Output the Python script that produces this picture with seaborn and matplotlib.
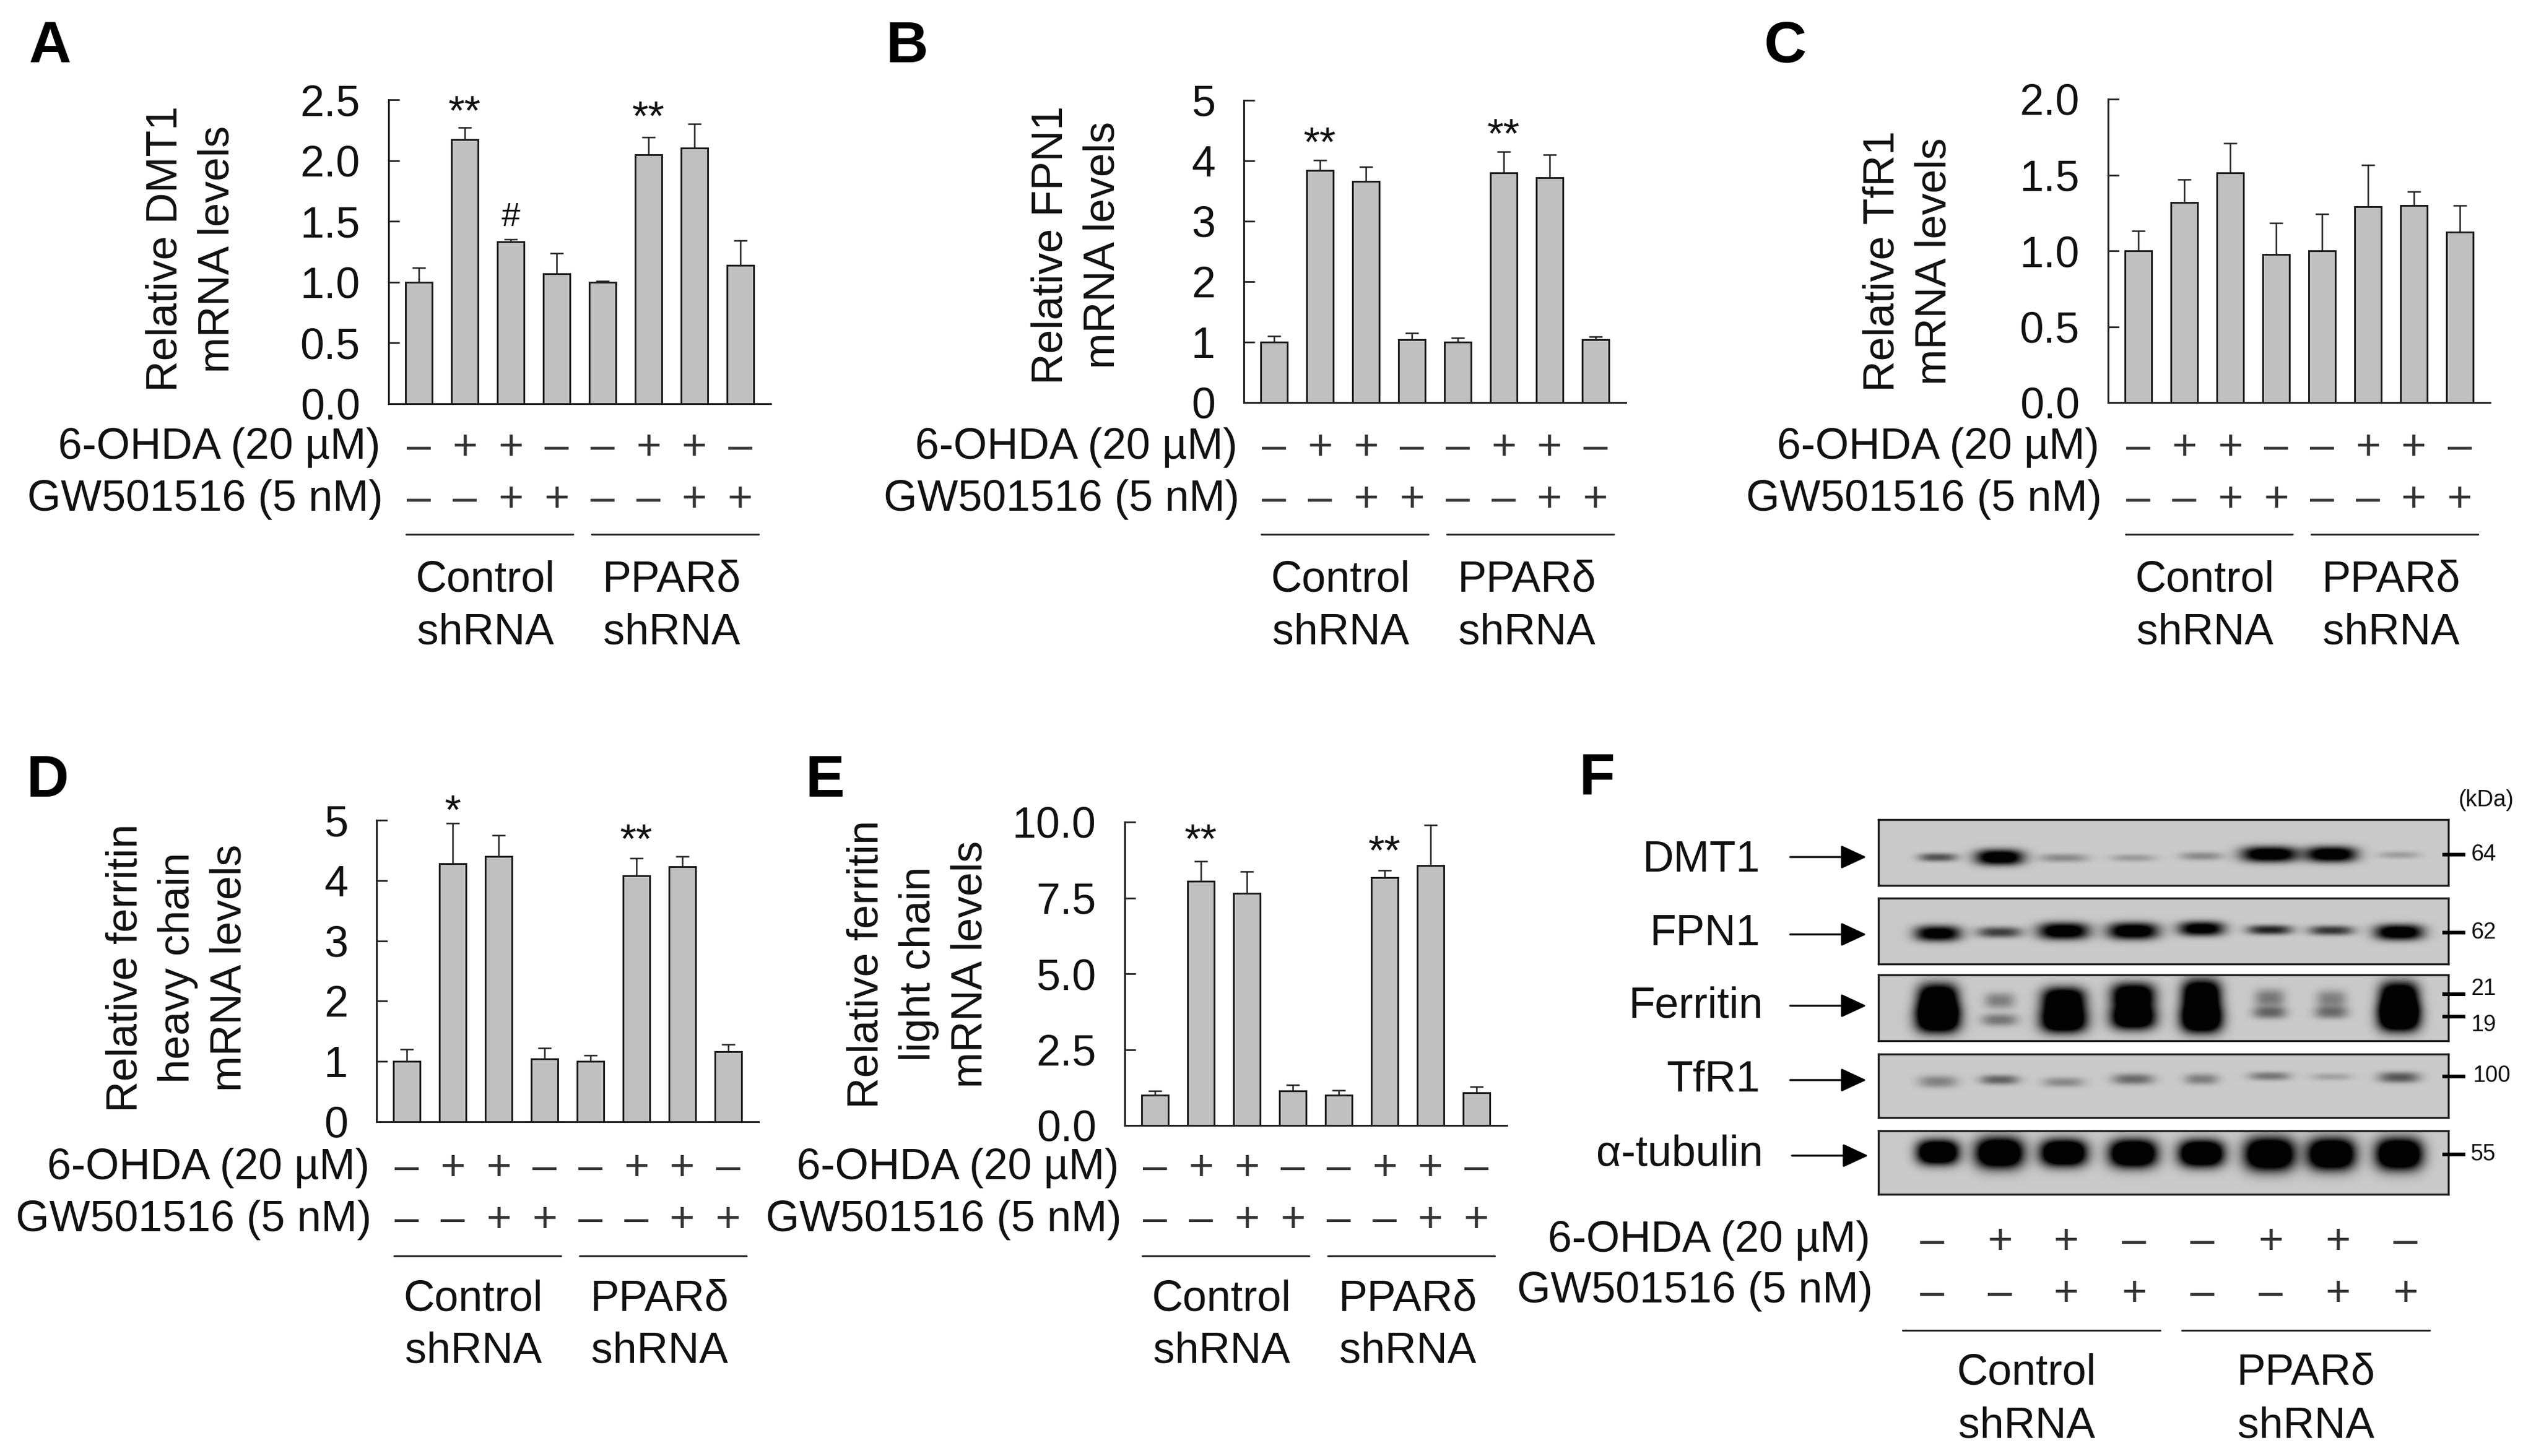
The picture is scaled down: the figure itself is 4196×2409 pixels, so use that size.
import numpy as np
import pandas as pd
import seaborn as sns
import matplotlib
matplotlib.use("Agg")
import matplotlib.pyplot as plt
from matplotlib.transforms import blended_transform_factory as blend

W, H = 4196, 2409
sns.set_theme(style="white")
plt.rcParams['font.family'] = ['Liberation Sans', 'DejaVu Sans']
plt.rcParams['text.color'] = '#111111'

conditions = ['C1', 'C2', 'C3', 'C4', 'P1', 'P2', 'P3', 'P4']
ohda_signs = ['–', '+', '+', '–', '–', '+', '+', '–']
gw_signs = ['–', '–', '+', '+', '–', '–', '+', '+']

dmt1_mean = [1.0, 2.17, 1.33, 1.07, 1.0, 2.05, 2.10, 1.14]
dmt1_top = [1.12, 2.27, 1.35, 1.24, 1.01, 2.19, 2.30, 1.34]
fpn1_mean = [1.0, 3.84, 3.66, 1.04, 1.0, 3.80, 3.72, 1.04]
fpn1_top = [1.10, 4.01, 3.90, 1.15, 1.07, 4.15, 4.10, 1.09]
tfr1_mean = [1.0, 1.32, 1.515, 0.975, 1.0, 1.29, 1.30, 1.125]
tfr1_top = [1.13, 1.47, 1.71, 1.185, 1.243, 1.565, 1.39, 1.30]
fth_mean = [1.0, 4.28, 4.40, 1.04, 1.0, 4.08, 4.23, 1.16]
fth_top = [1.20, 4.95, 4.75, 1.22, 1.10, 4.37, 4.40, 1.28]
ftl_mean = [1.0, 8.05, 7.65, 1.14, 1.0, 8.17, 8.57, 1.08]
ftl_top = [1.14, 8.70, 8.36, 1.34, 1.15, 8.40, 9.90, 1.27]

# Blot band strengths per lane, read by eye
dmt1_band = [.6, 1.3, .32, .24, .32, 1.3, 1.3, .22]
fpn1_band = [1.2, .7, 1.3, 1.3, 1.2, .85, .75, 1.3]
ferr_up_band = [1.6, .38, 1.5, 1.5, 1.6, .42, .38, 1.6]
ferr_lo_band = [1.8, .42, 1.7, 1.6, 1.8, .5, .45, 1.8]
tfr1_band = [.36, .52, .32, .48, .38, .42, .2, .58]
tub_band = [1.8, 1.8, 1.8, 1.8, 1.8, 1.8, 1.8, 1.8]

fig = plt.figure(figsize=(W / 100, H / 100), dpi=100, facecolor='white')
ov = fig.add_axes([0, 0, 1, 1], zorder=5)
ov.set_xlim(0, W)
ov.set_ylim(H, 0)
ov.axis('off')
ov.patch.set_alpha(0)

FS = 51.5
INK = '#111111'


def panel(left, top, bottom, mean, upper, ymax, ticks, fmt, ylabel, ylab_xy, rows, rx, stars):
    ax = fig.add_axes([left / W, 1 - bottom / H, 632 / W, (bottom - top) / H])
    df = pd.DataFrame({'condition': conditions, 'value': mean})
    sns.barplot(data=df, x='condition', y='value', color='#c0c0c0', saturation=1,
                edgecolor='#1a1a1a', linewidth=2.1, width=0.57, ax=ax)
    pos = np.arange(len(mean))
    ax.errorbar(pos, mean, yerr=[np.zeros(len(mean)), np.array(upper) - np.array(mean)],
                fmt='none', ecolor='#222222', elinewidth=1.8, capsize=8, capthick=1.8, zorder=1)
    ax.set_xlim(-0.658, 7.66)
    ax.set_ylim(0, ymax)
    ax.set_yticks(ticks)
    ax.set_yticklabels([fmt.format(t) for t in ticks], fontsize=FS, color=INK)
    ax.set_xticks([])
    ax.set_xlabel('')
    ax.tick_params(axis='y', direction='in', length=13, width=2, pad=34, left=True, color='#222222')
    for s in ('top', 'right'):
        ax.spines[s].set_visible(False)
    for s in ('left', 'bottom'):
        ax.spines[s].set_color('#222222')
        ax.spines[s].set_linewidth(2.2)
    ax.patch.set_alpha(0)
    ax.set_ylabel(ylabel, fontsize=FS, color=INK, va='center', ha='center',
                  multialignment='center', linespacing=1.36)
    ax.yaxis.set_label_coords(ylab_xy[0], ylab_xy[1], transform=ov.transData)

    tr = blend(ax.transData, ov.transData)
    ov.text(left - rx[0], rows[0], '6-OHDA (20 µM)', ha='right', va='center', fontsize=FS)
    ov.text(left - rx[1], rows[1], 'GW501516 (5 nM)', ha='right', va='center', fontsize=FS)
    for i in pos:
        ov.text(i, rows[0] + 1, ohda_signs[i], ha='center', va='center', fontsize=FS,
                transform=tr, color='#333333')
        ov.text(i, rows[1] + 1, gw_signs[i], ha='center', va='center', fontsize=FS,
                transform=tr, color='#333333')
    ov.plot([-0.27, 3.35], [rows[2], rows[2]], color='#222222', lw=2.2, transform=tr)
    ov.plot([3.77, 7.4], [rows[2], rows[2]], color='#222222', lw=2.2, transform=tr)
    ov.text(1.45, rows[3], 'Control', ha='center', va='center', fontsize=FS, transform=tr)
    ov.text(1.45, rows[4], 'shRNA', ha='center', va='center', fontsize=FS, transform=tr)
    ov.text(5.5, rows[3], 'PPARδ', ha='center', va='center', fontsize=FS, transform=tr)
    ov.text(5.5, rows[4], 'shRNA', ha='center', va='center', fontsize=FS, transform=tr)
    for i, y, s, fs in stars:
        ov.text(i, y, s, ha='center', va='center', fontsize=fs, transform=tr)
    return ax


top_rows = (741, 827, 884, 960, 1047)
bot_rows = (1932, 2018, 2078, 2150, 2236)

panel(643, 165, 668, dmt1_mean, dmt1_top, 2.5, [0, .5, 1, 1.5, 2, 2.5], '{:.1f}',
      'Relative DMT1\nmRNA levels', (317, 412), top_rows, (14, 9),
      [(1, 188, '**', 50), (2, 360, '#', 40), (5, 197, '**', 50)])
panel(2058, 166, 666, fpn1_mean, fpn1_top, 5, [0, 1, 2, 3, 4, 5], '{:d}',
      'Relative FPN1\nmRNA levels', (1782, 405), top_rows, (11, 7),
      [(1, 240, '**', 50), (5, 226, '**', 50)])
panel(3488, 164, 666, tfr1_mean, tfr1_top, 2.0, [0, .5, 1, 1.5, 2], '{:.1f}',
      'Relative TfR1\nmRNA levels', (3158, 432), top_rows, (15, 10), [])
panel(623, 1357, 1856, fth_mean, fth_top, 5, [0, 1, 2, 3, 4, 5], '{:d}',
      'Relative ferritin\nheavy chain\nmRNA levels', (294, 1601), bot_rows, (12, 8),
      [(1, 1345, '*', 50), (5, 1393, '**', 50)])
panel(1861, 1360, 1862, ftl_mean, ftl_top, 10, [0, 2.5, 5, 7.5, 10], '{:.1f}',
      'Relative ferritin\nlight chain\nmRNA levels', (1520, 1595), bot_rows, (10, 5),
      [(1, 1393, '**', 50), (5, 1412, '**', 50)])

for letter, x, y in [('A', 83, 78), ('B', 1501, 78), ('C', 2954, 78),
                     ('D', 79, 1293), ('E', 1365, 1293), ('F', 2642, 1289)]:
    ov.text(x, y, letter, ha='center', va='center', fontsize=70, fontweight='bold', color='black')

# ---------- Panel F : blots ----------
lanes = np.array([3206, 3308, 3414, 3529, 3642, 3755, 3857, 3969])
bl, br = 3108, 4051


def blot(top, bottom, bands, left=bl):
    h, w = bottom - top, br - left
    yy, xx = np.mgrid[0:h, 0:w]
    dark = np.zeros((h, w))
    for strength, ys, hw, hh in bands:
        for k, lane in enumerate(lanes):
            dx = np.abs(xx - (lane - left)) / hw[k]
            dy = np.abs(yy - ys[k]) / hh[k]
            dark += strength[k] * np.exp(-dx ** 3 - dy ** 2.4)
    img = 0.79 * (1 - np.clip(dark, 0, 1) * 0.99)
    ax = fig.add_axes([left / W, 1 - bottom / H, w / W, h / H], zorder=2)
    ax.imshow(img, cmap='gray', vmin=0, vmax=1, aspect='auto', interpolation='bilinear')
    ax.set_xticks([])
    ax.set_yticks([])
    for s in ax.spines.values():
        s.set_color('#1c1c1c')
        s.set_linewidth(2.4)
        s.set_visible(True)


blot(1356, 1465, [(dmt1_band, [62, 62, 63, 63, 60, 57, 57, 58],
                   [32, 40, 40, 37, 35, 47, 42, 34], [7, 13, 7, 6, 7, 13, 13, 6])])
blot(1486, 1595, [(fpn1_band, [58, 56, 54, 54, 50, 52, 53, 56],
                   [38, 37, 42, 42, 38, 37, 37, 40], [13, 9, 14, 14, 12, 8, 8, 13])])
blot(1613, 1722, [(ferr_up_band, [38, 42, 40, 34, 32, 38, 40, 36],
                   [33, 25, 36, 36, 32, 25, 25, 32], [24, 13, 20, 21, 25, 15, 15, 25]),
                  (ferr_lo_band, [72, 74, 74, 70, 72, 62, 62, 70],
                   [36, 30, 38, 37, 34, 28, 28, 34], [23, 10, 21, 20, 23, 10, 10, 23])])
blot(1744, 1849, [(tfr1_band, [45, 42, 46, 41, 41, 36, 37, 38],
                   [32, 32, 34, 34, 28, 34, 34, 34], [10, 8, 8, 9, 9, 7, 6, 9])])
blot(1871, 1976, [(tub_band, [35, 36, 36, 37, 37, 38, 38, 38],
                   [34, 39, 38, 39, 37, 41, 39, 38], [20, 25, 22, 23, 22, 27, 26, 26])])

for name, x, y in [('DMT1', 2912, 1424), ('FPN1', 2912, 1546), ('Ferritin', 2917, 1665),
                   ('TfR1', 2912, 1788), ('α-tubulin', 2917, 1910)]:
    ov.text(x, y, name, ha='right', va='center', fontsize=FS)
for y, x0 in [(1418, 2962), (1546, 2962), (1664, 2962), (1787, 2962), (1912, 2965)]:
    ov.annotate('', xy=(x0 + 126, y), xytext=(x0, y), zorder=6,
                arrowprops=dict(arrowstyle='-|>,head_length=1.55,head_width=0.72',
                                color='black', lw=2.3, shrinkA=0, shrinkB=0, mutation_scale=17))

for y in [1414, 1543, 1645, 1682, 1781, 1910]:
    ov.plot([4041, 4079], [y, y], color='black', lw=4.4, solid_capstyle='butt', zorder=6)
for txt, x, y in [('64', 4088, 1414), ('62', 4088, 1543), ('21', 4088, 1636), ('19', 4088, 1696),
                  ('100', 4091, 1780), ('55', 4088, 1910)]:
    ov.text(x, y, txt, ha='left', va='center', fontsize=27)
ov.text(4114, 1324, '(kDa)', ha='center', va='center', fontsize=27)

sign_x = np.array([3197, 3309, 3418, 3531, 3644, 3757, 3868, 3980])
ov.text(3094, 2052, '6-OHDA (20 µM)', ha='right', va='center', fontsize=FS)
ov.text(3099, 2136, 'GW501516 (5 nM)', ha='right', va='center', fontsize=FS)
for i, x in enumerate(sign_x):
    ov.text(x, 2055, ohda_signs[i], ha='center', va='center', fontsize=FS, color='#333333')
    ov.text(x, 2142, gw_signs[i], ha='center', va='center', fontsize=FS, color='#333333')
ov.plot([3148, 3574], [2201, 2201], color='#222222', lw=2.2)
ov.plot([3610, 4020], [2201, 2201], color='#222222', lw=2.2)
for cx, a, b in [(3353, 'Control', 'shRNA'), (3815, 'PPARδ', 'shRNA')]:
    ov.text(cx, 2272, a, ha='center', va='center', fontsize=FS)
    ov.text(cx, 2360, b, ha='center', va='center', fontsize=FS)

fig.savefig('out.png', dpi=100, facecolor='white')
